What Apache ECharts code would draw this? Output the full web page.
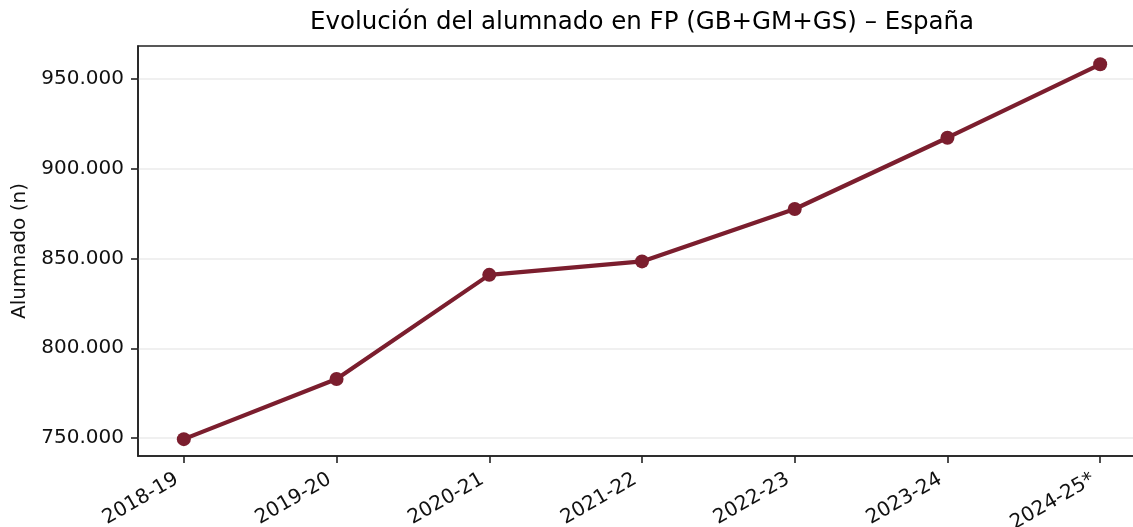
<!DOCTYPE html>
<html>
<head>
<meta charset="utf-8">
<script src="https://cdn.jsdelivr.net/npm/echarts@6/dist/echarts.min.js"></script>
<style>
  html, body { margin: 0; padding: 0; background: #fff; }
  #main { width: 1133px; height: 527px; }
</style>
</head>
<body>
<div id="main"></div>
<script>
var cursos = ['2018-19', '2019-20', '2020-21', '2021-22', '2022-23', '2023-24', '2024-25*'];
var alumnado = [749400, 782900, 840900, 848400, 877600, 917300, 958200];
var yTicks = [750000, 800000, 850000, 900000, 950000];
var xPos = [0, 1, 2, 3, 4, 5, 6];

var myChart = echarts.init(document.getElementById('main'));

function fmtMiles(v) {
    return String(Math.round(v)).replace(/\B(?=(\d{3})+(?!\d))/g, '.');
}

var font = 'DejaVu Sans';

option = {
    animation: false,
    title: {
        text: 'Evolución del alumnado en FP (GB+GM+GS) – España',
        left: 305,
        top: 5,
        textStyle: {
            fontFamily: font,
            fontSize: 24.5,
            fontWeight: 'normal',
            color: '#000'
        }
    },
    grid: {
        left: 138,
        right: -13,
        top: 46,
        bottom: 71,
        show: true,
        borderColor: '#222',
        borderWidth: 1.6,
        outerBoundsMode: 'none',
        containLabel: false
    },
    xAxis: {
        type: 'value',
        min: -0.3,
        max: 6.3,
        axisLine: { show: true, onZero: false, lineStyle: { color: '#222', width: 1.6 } },
        axisTick: {
            show: true, inside: false, length: 7,
            lineStyle: { color: '#222', width: 1.6 },
            customValues: xPos
        },
        axisLabel: {
            customValues: xPos,
            rotate: 30,
            margin: 18,
            padding: [0, 8, 0, 0],
            fontFamily: font,
            fontSize: 20,
            color: '#111',
            formatter: function (v) { return cursos[Math.round(v)]; }
        },
        splitLine: { show: false }
    },
    yAxis: {
        type: 'value',
        min: 740000,
        max: 968400,
        name: 'Alumnado (n)',
        nameLocation: 'middle',
        nameGap: 108,
        nameTextStyle: { fontFamily: font, fontSize: 20, color: '#111' },
        axisLine: { show: true, onZero: false, lineStyle: { color: '#222', width: 1.6 } },
        axisTick: {
            show: true, inside: false, length: 7,
            lineStyle: { color: '#222', width: 1.6 },
            customValues: yTicks
        },
        axisLabel: {
            customValues: yTicks,
            margin: 14,
            fontFamily: font,
            fontSize: 20,
            color: '#111',
            formatter: fmtMiles
        },
        splitLine: { show: true, lineStyle: { color: '#ebebeb', width: 1.5 } }
    },
    series: [
        {
            name: 'Alumnado',
            type: 'line',
            data: xPos.map(function (x, i) { return [x, alumnado[i]]; }),
            symbol: 'circle',
            symbolSize: 14,
            lineStyle: { color: '#7b1e2e', width: 4.2 },
            itemStyle: { color: '#7b1e2e' }
        }
    ]
};

myChart.setOption(option);
</script>
</body>
</html>
